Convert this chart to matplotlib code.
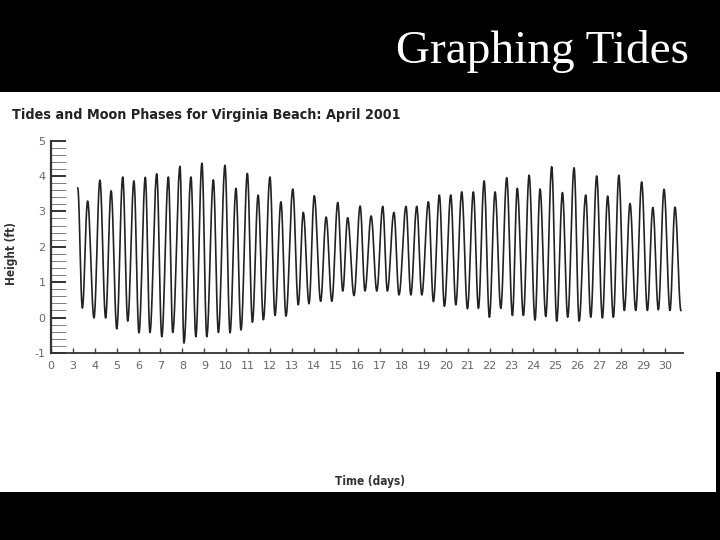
import numpy as np
import matplotlib
matplotlib.use('Agg')
import matplotlib.pyplot as plt
from matplotlib.patches import Rectangle
from matplotlib.ticker import MultipleLocator

plt.rcParams['axes.unicode_minus'] = False

# High tides (day of April, height in ft)
high_days = [3.23, 3.68, 4.24, 4.75, 5.28, 5.79, 6.31, 6.83, 7.36, 7.89, 8.39, 8.89,
             9.41, 9.94, 10.44, 10.96, 11.45, 11.99, 12.49, 13.03, 13.51, 14.01, 14.55,
             15.08, 15.53, 16.10, 16.60, 17.13, 17.64, 18.19, 18.68, 19.21, 19.71, 20.23,
             20.73, 21.26, 21.75, 22.25, 22.78, 23.26, 23.80, 24.30, 24.83, 25.32, 25.85,
             26.38, 26.88, 27.38, 27.89, 28.40, 28.93, 29.44, 29.95, 30.45]
high_ft = [3.66, 3.29, 3.88, 3.58, 3.97, 3.86, 3.96, 4.06, 3.97, 4.27, 3.97, 4.36,
           3.89, 4.30, 3.65, 4.07, 3.46, 3.97, 3.27, 3.63, 2.97, 3.44, 2.84,
           3.25, 2.82, 3.15, 2.87, 3.14, 2.97, 3.14, 3.14, 3.27, 3.46, 3.46,
           3.55, 3.55, 3.86, 3.55, 3.95, 3.65, 4.02, 3.63, 4.26, 3.53, 4.23,
           3.46, 4.00, 3.43, 4.02, 3.22, 3.83, 3.11, 3.62, 3.12]

# Low tides
low_days = [3.44, 3.97, 4.50, 5.01, 5.51, 6.02, 6.52, 7.06, 7.56, 8.07, 8.61, 9.11,
            9.64, 10.17, 10.67, 11.19, 11.69, 12.22, 12.72, 13.28, 13.77, 14.30, 14.81,
            15.31, 15.82, 16.32, 16.86, 17.34, 17.87, 18.41, 18.91, 19.44, 19.94, 20.46,
            20.99, 21.49, 21.99, 22.51, 23.04, 23.54, 24.07, 24.56, 25.06, 25.56, 26.08,
            26.61, 27.14, 27.64, 28.14, 28.66, 29.19, 29.69, 30.22, 30.72]
low_ft = [0.27, -0.01, -0.01, -0.32, -0.10, -0.43, -0.42, -0.54, -0.42, -0.72, -0.54, -0.54,
          -0.42, -0.43, -0.35, -0.13, -0.06, 0.06, 0.04, 0.36, 0.39, 0.46, 0.46,
          0.75, 0.62, 0.75, 0.75, 0.75, 0.64, 0.64, 0.64, 0.45, 0.32, 0.36,
          0.25, 0.26, 0.01, 0.26, 0.06, 0.06, -0.07, 0.03, -0.10, 0.01, -0.10,
          0.01, -0.01, 0.01, 0.20, 0.20, 0.20, 0.22, 0.20, 0.20]

day_ticks = list(range(3, 31))
height_ticks = [-1, 0, 1, 2, 3, 4, 5]

# join highs and lows in time order, cosine shape between turning points
ext_t = np.array(high_days + low_days)
ext_h = np.array(high_ft + low_ft)
order = np.argsort(ext_t)
ext_t, ext_h = ext_t[order], ext_h[order]
t_all, h_all = [], []
for i in range(len(ext_t) - 1):
    f = np.linspace(0, 1, 20, endpoint=False)
    t_all.append(ext_t[i] + f * (ext_t[i + 1] - ext_t[i]))
    h_all.append(ext_h[i] + (ext_h[i + 1] - ext_h[i]) * (1 - np.cos(np.pi * f)) / 2)
t_all.append([ext_t[-1]])
h_all.append([ext_h[-1]])
t_all = np.concatenate(t_all)
h_all = np.concatenate(h_all)

fig = plt.figure(figsize=(7.2, 5.4), dpi=100, facecolor='black')

# white scanned page area
fig.patches.append(Rectangle((0, 0.0889), 1, 0.7407, transform=fig.transFigure,
                             facecolor='white', edgecolor='none', zorder=-2))
fig.patches.append(Rectangle((0.9945, 0.0889), 0.006, 0.2222, transform=fig.transFigure,
                             facecolor='black', edgecolor='none', zorder=-1))

fig.text(0.754, 0.883, 'Graphing Tides', color='white', fontsize=34,
         family='Liberation Serif', ha='center', va='baseline')

fig.text(0.017, 0.787, 'Tides and Moon Phases for Virginia Beach: April 2001',
         fontsize=10.3, fontweight='bold', fontstretch='condensed', color='#222222',
         ha='left', va='center')

ax = fig.add_axes([0.0708, 0.3463, 0.878, 0.3935])
ax.set_zorder(3)
ax.set_facecolor('none')
ax.plot(t_all, h_all, color='#222222', lw=1.2)

ax.set_xlim(2.01, 30.82)
ax.set_ylim(-1, 5)
for s in ['top', 'right']:
    ax.spines[s].set_visible(False)
ax.spines['left'].set_color('#333333')
ax.spines['left'].set_linewidth(1.6)
ax.spines['bottom'].set_color('#333333')
ax.spines['bottom'].set_linewidth(1.3)

ax.set_xticks([2.01] + day_ticks)
ax.set_xticklabels(['0'] + [str(d) for d in day_ticks])
ax.set_yticks(height_ticks)
ax.yaxis.set_minor_locator(MultipleLocator(0.2))
ax.tick_params(axis='x', direction='in', length=3.5, width=1, color='#444444',
               labelsize=8, labelcolor='#666666', pad=6)
ax.tick_params(axis='y', which='major', direction='in', length=10.8, width=1.4,
               color='#333333', labelsize=8, labelcolor='#666666', pad=4)
ax.tick_params(axis='y', which='minor', direction='in', length=10.8, width=0.6,
               color='#666666')

ax.set_ylabel('Height (ft)', fontsize=8.5, fontweight='bold', fontstretch='condensed',
              color='#333333')
ax.yaxis.set_label_coords(-0.052, 0.47)
ax.set_xlabel('Time (days)', fontsize=8.5, fontweight='bold', fontstretch='condensed',
              color='#333333')
ax.xaxis.set_label_coords(0.505, -0.574)

fig.savefig('out.png', dpi=100, facecolor='black')
